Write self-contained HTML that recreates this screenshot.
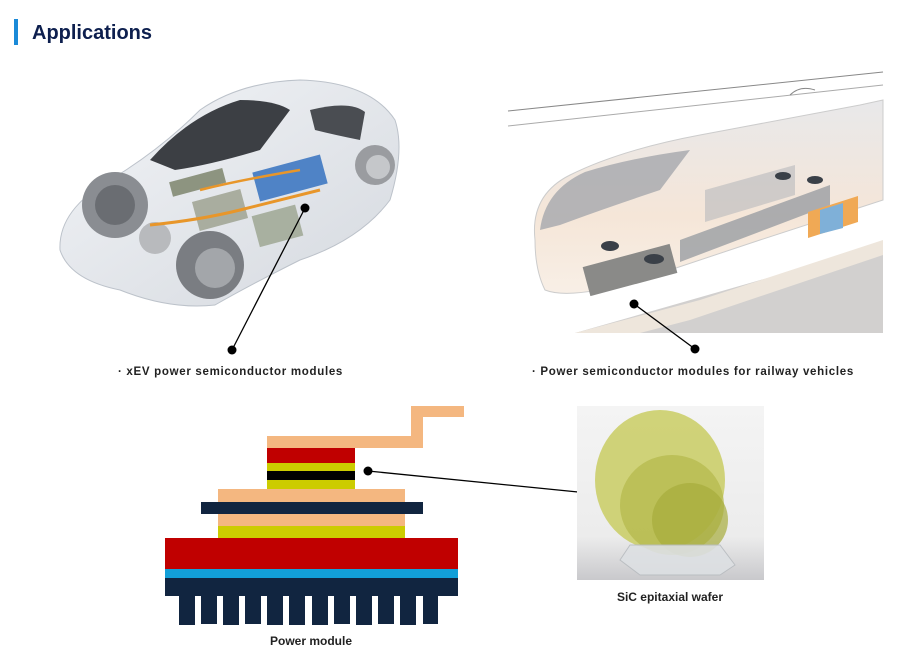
<!DOCTYPE html>
<html><head><meta charset="utf-8"><style>
html,body{margin:0;padding:0;background:#fff;width:906px;height:646px;overflow:hidden}
svg{display:block}
text{font-family:"Liberation Sans",Arial,sans-serif}
</style></head><body>
<svg width="906" height="646" viewBox="0 0 906 646" xmlns="http://www.w3.org/2000/svg">
<defs>
<linearGradient id="carg" x1="0" y1="0" x2="1" y2="1"><stop offset="0" stop-color="#f2f4f7"/><stop offset="1" stop-color="#d5d9df"/></linearGradient>
<linearGradient id="trg" x1="0" y1="0" x2="0" y2="1"><stop offset="0" stop-color="#e8e8ea"/><stop offset="0.6" stop-color="#f5e6d8"/><stop offset="1" stop-color="#f8efe6"/></linearGradient>
<linearGradient id="wbg" x1="0" y1="0" x2="0" y2="1"><stop offset="0" stop-color="#f4f4f4"/><stop offset="0.75" stop-color="#ececec"/><stop offset="1" stop-color="#c9c9cc"/></linearGradient>
</defs>
<rect x="14" y="19" width="4" height="26" fill="#1a8ad8"/>
<text x="32" y="39" font-size="20" font-weight="bold" fill="#0d1f4e">Applications</text>

<g>
<path d="M60 250 Q58 210 110 180 Q160 150 200 110 Q240 82 300 80 Q370 82 395 120 Q405 150 390 200 Q360 240 300 260 Q250 285 215 305 Q170 310 120 290 Q70 280 60 250Z" fill="url(#carg)" stroke="#bcc2ca"/>
<path d="M150 160 Q190 115 240 100 Q275 100 290 110 L260 150 Q210 165 175 170Z" fill="#3c3f44"/>
<path d="M310 110 Q350 100 365 112 L360 140 Q335 135 315 130Z" fill="#4a4d52"/>
<circle cx="115" cy="205" r="33" fill="#8a8d92"/><circle cx="115" cy="205" r="20" fill="#6a6d72"/>
<circle cx="210" cy="265" r="34" fill="#7a7d82"/><circle cx="215" cy="268" r="20" fill="#a3a6aa"/>
<circle cx="375" cy="165" r="20" fill="#9a9ca0"/><circle cx="378" cy="167" r="12" fill="#c5c7ca"/>
<circle cx="155" cy="238" r="16" fill="#b8babd"/>
<rect x="255" y="163" width="70" height="30" fill="#4f83c6" transform="rotate(-15 290 178)"/>
<rect x="195" y="195" width="50" height="30" fill="#a9ad9f" transform="rotate(-15 220 210)"/>
<rect x="255" y="210" width="45" height="32" fill="#a8b0a0" transform="rotate(-15 277 226)"/>
<rect x="170" y="175" width="55" height="15" fill="#8d9480" transform="rotate(-15 197 182)"/>
<path d="M150 225 Q200 220 240 210 Q280 200 320 190" stroke="#e8962a" stroke-width="3" fill="none"/>
<path d="M200 190 Q240 180 300 170" stroke="#e8962a" stroke-width="2.5" fill="none"/>
</g>
<line x1="305" y1="208" x2="232" y2="350" stroke="#000" stroke-width="1.3"/>
<circle cx="305" cy="208" r="4.5" fill="#000"/>
<circle cx="232" cy="350" r="4.5" fill="#000"/>
<text x="118" y="375" font-size="11.5" font-weight="bold" fill="#222" letter-spacing="0.7">· xEV power semiconductor modules</text>

<g>
<line x1="508" y1="111" x2="883" y2="72" stroke="#888" stroke-width="1"/>
<line x1="508" y1="126" x2="883" y2="85" stroke="#aaa" stroke-width="1"/>
<path d="M575 333 L883 245 L883 333Z" fill="#d2d0cf"/>
<path d="M575 333 L700 300 L883 240 L883 255 L690 320 L640 333Z" fill="#eee6dc"/>
<path d="M535 240 Q530 195 570 175 Q620 150 700 135 L860 105 L883 100 L883 200 L760 240 L640 280 Q570 300 545 290 Q535 270 535 240Z" fill="url(#trg)" stroke="#ccc"/>
<path d="M540 230 Q545 190 585 172 Q630 158 690 150 L660 190 Q600 210 560 225Z" fill="#a5a8ad" opacity="0.8"/>
<path d="M705 190 L795 165 L795 195 L705 222Z" fill="#b7b9bc" opacity="0.6"/>
<path d="M680 240 L830 185 L830 205 L680 262Z" fill="#9a9da2" opacity="0.8"/>
<path d="M808 212 L858 196 L858 222 L808 238Z" fill="#f0a955"/>
<path d="M820 210 L843 203 L843 228 L820 234Z" fill="#7fb0d8"/>
<rect x="585" y="255" width="90" height="30" fill="#8a8a88" transform="rotate(-15 630 270)"/>
<ellipse cx="610" cy="246" rx="9" ry="5" fill="#3a4048"/><ellipse cx="654" cy="259" rx="10" ry="5" fill="#3a4048"/>
<ellipse cx="783" cy="176" rx="8" ry="4" fill="#3a4048"/><ellipse cx="815" cy="180" rx="8" ry="4" fill="#3a4048"/>
<path d="M790 95 Q800 85 815 90" stroke="#888" fill="none"/>
</g>
<line x1="634" y1="304" x2="695" y2="349" stroke="#000" stroke-width="1.3"/>
<circle cx="634" cy="304" r="4.5" fill="#000"/>
<circle cx="695" cy="349" r="4.5" fill="#000"/>
<text x="532" y="375" font-size="11.5" font-weight="bold" fill="#222" letter-spacing="0.7">· Power semiconductor modules for railway vehicles</text>

<g>
<path d="M267 436 H411 V406 H464 V417 H423 V448 H267Z" fill="#f4b780"/>
<rect x="267" y="448" width="88" height="15" fill="#c00000"/>
<rect x="267" y="463" width="88" height="8" fill="#cccc00"/>
<rect x="267" y="471" width="88" height="9" fill="#000"/>
<rect x="267" y="480" width="88" height="9" fill="#cccc00"/>
<rect x="218" y="489" width="187" height="13" fill="#f4b780"/>
<rect x="201" y="502" width="222" height="12" fill="#112540"/>
<rect x="218" y="514" width="187" height="12" fill="#f4b780"/>
<rect x="218" y="526" width="187" height="12" fill="#cccc00"/>
<rect x="165" y="538" width="293" height="31" fill="#c00000"/>
<rect x="165" y="569" width="293" height="9" fill="#129fd8"/>
<rect x="165" y="578" width="293" height="18" fill="#112540"/>
<g fill="#112540">
<rect x="179" y="596" width="16" height="29"/><rect x="201" y="596" width="16" height="28"/>
<rect x="223" y="596" width="16" height="29"/><rect x="245" y="596" width="16" height="28"/>
<rect x="267" y="596" width="16" height="29"/><rect x="289" y="596" width="16" height="29"/>
<rect x="312" y="596" width="16" height="29"/><rect x="334" y="596" width="16" height="28"/>
<rect x="356" y="596" width="16" height="29"/><rect x="378" y="596" width="16" height="28"/>
<rect x="400" y="596" width="16" height="29"/><rect x="423" y="596" width="15" height="28"/>
</g>
</g>
<line x1="368" y1="471" x2="578" y2="492" stroke="#000" stroke-width="1.3"/>
<circle cx="368" cy="471" r="4.5" fill="#000"/>
<text x="311" y="645" font-size="12" font-weight="bold" fill="#222" text-anchor="middle">Power module</text>

<rect x="577" y="406" width="187" height="174" fill="url(#wbg)"/>
<ellipse cx="660" cy="480" rx="65" ry="70" fill="#c9cc63" opacity="0.85"/>
<ellipse cx="672" cy="505" rx="52" ry="50" fill="#b3b84a" opacity="0.7"/>
<ellipse cx="690" cy="520" rx="38" ry="37" fill="#a6ac3c" opacity="0.7"/>
<path d="M630 545 L720 545 L735 565 L720 575 L640 575 L620 560Z" fill="#dde0e3" stroke="#b8bcc0" opacity="0.9"/>
<text x="670" y="601" font-size="12" font-weight="bold" fill="#222" text-anchor="middle">SiC epitaxial wafer</text>
</svg>
</body></html>
